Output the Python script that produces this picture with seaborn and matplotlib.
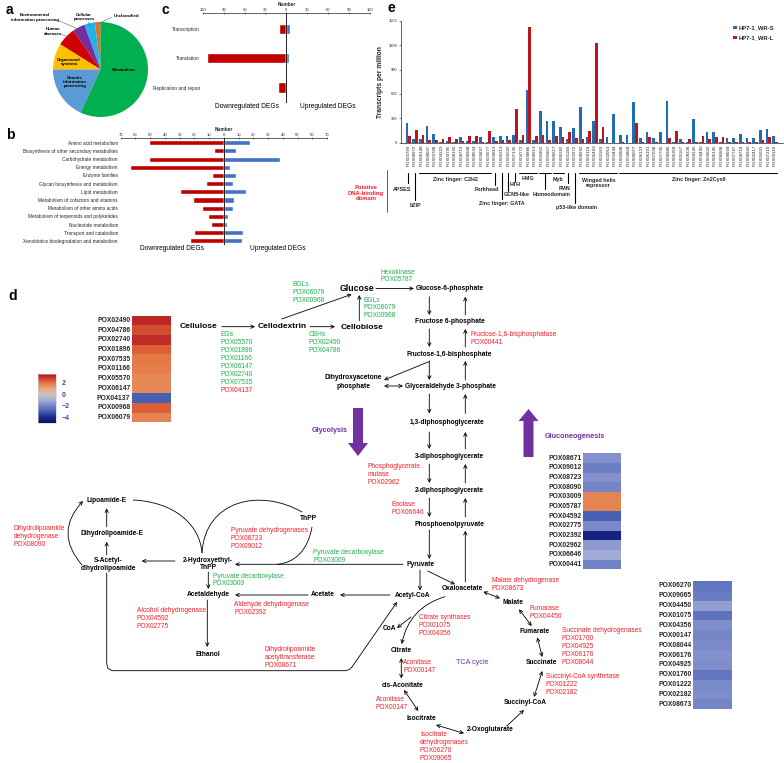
import numpy as np
import pandas as pd
import seaborn as sns
import matplotlib.pyplot as plt
import matplotlib.transforms as mtransforms
from matplotlib.colors import LinearSegmentedColormap
from matplotlib.patches import PathPatch
from matplotlib.path import Path

sns.set_style('white')
plt.rcParams['font.family'] = ['Liberation Sans', 'DejaVu Sans']
plt.rcParams['axes.linewidth'] = 0.5

W, H = 784, 763
RED, BLUE = '#C00000', '#4472C4'
E_BLUE, E_RED = '#1F6DB5', '#C0141C'
GREEN_TXT, RED_TXT, PURPLE = '#1EB04A', '#F0202A', '#7030A0'

# ---------------- data ----------------
# panel a: KEGG classes of DEGs (share, %)
kegg_class = ['Unclassified', 'Cellular processes', 'Environmental information processing',
              'Human diseases', 'Organismal systems', 'Genetic information processing', 'Metabolism']
kegg_share = [1.9, 3.6, 4.2, 6.4, 8.9, 18.1, 56.9]
kegg_colors = ['#E07022', '#1FB4EA', '#7030A0', '#D00000', '#FFC000', '#5B9BD5', '#00B050']

# panel b: metabolism sub-classes
b_cats = ['Amino acid metabolism', 'Biosynthesis of other secondary metabolites',
          'Carbohydrate metabolism', 'Energy metabolism', 'Enzyme families',
          'Glycan biosynthesis and metabolism', 'Lipid metabolism',
          'Metabolism of cofactors and vitamins', 'Metabolism of other amino acids',
          'Metabolism of terpenoids and polyketides', 'Nucleotide metabolism',
          'Transport and catabolism', 'Xenobiotics biodegradation and metabolism']
b_down = [51, 7, 51, 64, 8, 12, 30, 21, 15, 11, 9, 20, 23]
b_up = [18, 8, 38, 4, 8, 6, 15, 7, 6, 3, 2, 13, 12]

# panel c: genetic information processing
c_cats = ['Transcription', 'Translation', 'Replication and repair']
c_down = [10, 114, 12]
c_up = [5, 4, 0]

# panel e: transcription factors (TPM)
e_genes = ['POX03789', 'POX08972', 'POX06148', 'POX08037', 'POX03788', 'POX04223', 'POX04795',
           'POX08160', 'POX08719', 'POX08288', 'POX08534', 'POX03897', 'POX03577', 'POX04819',
           'POX06313', 'POX04392', 'POX07135', 'POX04772', 'POX04886', 'POX08913', 'POX05862',
           'POX05867', 'POX06617', 'POX06382', 'POX01184', 'POX03372', 'POX08992', 'POX09118',
           'POX06469', 'POX01183', 'POX02063', 'POX03444', 'POX02888', 'POX03868', 'POX06077',
           'POX06123', 'POX06101', 'POX07038', 'POX07795', 'POX08986', 'POX06358', 'POX01167',
           'POX08328', 'POX04145', 'POX04490', 'POX04832', 'POX06145', 'POX06808', 'POX08039',
           'POX07747', 'POX08718', 'POX08949', 'POX02417', 'POX05031', 'POX07210', 'POX09116']
e_wrs = [245, 40, 40, 205, 110, 5, 20, 5, 70, 20, 20, 70, 5, 75, 85, 85, 100, 35, 648, 30,
         385, 265, 265, 190, 40, 185, 440, 65, 263, 49, 66, 357, 99, 99, 497, 58, 136, 58,
         136, 518, 5, 49, 3, 292, 5, 136, 136, 5, 58, 58, 103, 58, 58, 160, 173, 82]
e_wrl = [80, 155, 95, 38, 38, 45, 75, 45, 20, 80, 80, 5, 145, 25, 30, 30, 420, 95, 1420, 80,
         95, 35, 80, 65, 135, 60, 40, 144, 1230, 193, 2, 2, 8, 0, 238, 5, 66, 8, 0, 58,
         144, 5, 41, 8, 86, 49, 66, 74, 5, 5, 5, 5, 5, 29, 66, 5]
e_samples = ['HP7-1_WR-S', 'HP7-1_WR-L']
# DNA-binding domain groups: name, first gene, last gene, drop length, label y, label dx
e_groups = [('APSES', 0, 0, 10, 189.5, -1.0), ('bZIP', 1, 1, 27, 205.5, 0),
            ('Zinc finger: C2H2', 2, 12, 0, 179.5, 0), ('Forkhead', 13, 13, 12, 189.5, -1.2),
            ('Zinc finger: GATA', 14, 14, 26, 203.5, 0), ('GCN5-like', 15, 15, 18, 195, 1.2),
            ('HTH', 16, 16, 8, 184, 0), ('HMG', 17, 19, 0, 178.5, 0),
            ('Homeodomain', 20, 21, 16, 195, 1.0), ('Myb', 22, 23, 0, 179.5, 0),
            ('FMN', 24, 24, 10, 188.5, -0.6), ('p53-like domain', 25, 25, 30, 207.5, 0.3),
            ('Winged helix\nrepressor', 26, 31, 0, 183, 0), ('Zinc finger: Zn2Cys6', 32, 55, 0, 179.5, 0)]

# panel d heatmaps (log2 fold change)
hm1_genes = ['POX02490', 'POX04786', 'POX02740', 'POX01896', 'POX07535', 'POX01166',
             'POX05570', 'POX06147', 'POX04137', 'POX00968', 'POX06079']
hm1_vals = [3.2, 2.6, 3.1, 2.3, 1.9, 1.8, 1.6, 1.6, -3.0, 2.3, 1.7]
hm2_genes = ['POX08671', 'POX09012', 'POX08723', 'POX08090', 'POX03009', 'POX05787',
             'POX04592', 'POX02775', 'POX02392', 'POX02962', 'POX06646', 'POX00441']
hm2_vals = [-1.7, -2.2, -1.7, -2.0, 1.7, 1.7, -3.0, -1.9, -4.3, -1.5, -1.1, -2.1]
hm3_genes = ['POX06270', 'POX09065', 'POX04450', 'POX01075', 'POX04356', 'POX00147', 'POX08044',
             'POX06176', 'POX04925', 'POX01760', 'POX01222', 'POX02182', 'POX08673']
hm3_vals = [-2.4, -2.3, -1.4, -2.5, -1.8, -2.0, -1.9, -1.7, -1.8, -2.4, -1.9, -1.8, -2.0]

cmap = LinearSegmentedColormap.from_list('fc', [
    (0.0, '#0b1465'), (1 / 8.5, '#1c2a8a'), (2 / 8.5, '#4560b5'), (3 / 8.5, '#7585c8'),
    (4 / 8.5, '#a6aed6'), (5 / 8.5, '#cfc4bd'), (6 / 8.5, '#e9a57f'), (7 / 8.5, '#e5743f'),
    (1.0, '#b3121d')])


def rect(x0, y0, x1, y1):
    return [x0 / W, 1 - y1 / H, (x1 - x0) / W, (y1 - y0) / H]


def butterfly(ax, cats, down, up, xmax, step, width, ylim):
    df = pd.DataFrame({'cat': cats * 2, 'n': [-v for v in down] + list(up),
                       'dir': ['Down'] * len(cats) + ['Up'] * len(cats)})
    sns.barplot(data=df, y='cat', x='n', hue='dir', order=cats, dodge=False, orient='h',
                palette={'Down': RED, 'Up': BLUE}, width=width, saturation=1, ax=ax, legend=False)
    ax.set_xlim(-xmax, xmax)
    ax.set_ylim(*ylim)
    ticks = np.arange(-xmax, xmax + 1, step)
    ax.set_xticks(ticks)
    ax.set_xticklabels([str(abs(t)) for t in ticks])
    ax.xaxis.tick_top()
    ax.xaxis.set_label_position('top')
    ax.set_xlabel('Number', fontsize=3.4, fontweight='bold', labelpad=1)
    ax.set_ylabel('')
    for s in ['bottom', 'left', 'right']:
        ax.spines[s].set_visible(False)
    ax.spines['top'].set_linewidth(0.5)
    ax.axvline(0, color='black', lw=0.6)
    ax.tick_params(axis='y', length=0, labelsize=3.4, pad=2)
    ax.tick_params(axis='x', length=1.5, width=0.4, labelsize=3.0, pad=0.5, direction='inout')
    ax.patch.set_alpha(0)


def heat(ax, genes, vals, cax=None):
    df = pd.DataFrame({'z': vals}, index=genes)
    sns.heatmap(df, ax=ax, cmap=cmap, vmin=-5, vmax=3.5, cbar=cax is not None, cbar_ax=cax,
                xticklabels=False, yticklabels=True)
    ax.set_ylabel('')
    ax.tick_params(axis='y', length=0, pad=1, labelsize=4.85)
    for lab in ax.get_yticklabels():
        lab.set_rotation(0)
        lab.set_fontweight('bold')


fig = plt.figure(figsize=(W / 100, H / 100), dpi=100)

# ---- a: pie ----
ax_a = fig.add_axes(rect(53, 22, 148, 117))
ax_a.pie(kegg_share, colors=kegg_colors, startangle=90, counterclock=True,
         wedgeprops=dict(linewidth=0))
ax_a.set_xlim(-1, 1)
ax_a.set_ylim(-1, 1)
ax_a.set_aspect('equal')

# ---- b, c: butterfly bars ----
ax_b = fig.add_axes(rect(120.7, 138.3, 327, 245))
butterfly(ax_b, b_cats, b_down, b_up, 70, 10, 0.62, (12.5, -0.54))
ax_c = fig.add_axes(rect(202.7, 13.3, 370, 103))
butterfly(ax_c, c_cats, c_down, c_up, 120, 30, 0.35, (2.53, -0.54))

# ---- e: TPM bars ----
ax_e = fig.add_axes(rect(400.7, 20.7, 783, 142.7))
df_e = pd.DataFrame({'gene': e_genes * 2, 'tpm': e_wrs + e_wrl,
                     'sample': [e_samples[0]] * len(e_genes) + [e_samples[1]] * len(e_genes)})
sns.barplot(data=df_e, x='gene', y='tpm', hue='sample', order=e_genes, hue_order=e_samples,
            palette=[E_BLUE, E_RED], width=0.78, saturation=1, linewidth=0, ax=ax_e)
ax_e.set_xlim(-1.14, 56.2)
ax_e.set_ylim(0, 1500)
ax_e.set_yticks(range(0, 1501, 300))
ax_e.set_xlabel('')
ax_e.set_ylabel('Transcripts per million', fontsize=4.8, fontweight='bold', labelpad=3)
sns.despine(ax=ax_e)
ax_e.tick_params(axis='x', length=0, labelsize=3.2, pad=1.5, labelrotation=90)
ax_e.tick_params(axis='y', length=1.5, width=0.4, labelsize=2.9, pad=1, left=True)
h_, l_ = ax_e.get_legend_handles_labels()
ax_e.legend(h_, l_, loc='upper right', bbox_to_anchor=(0.985, 0.985), frameon=False,
            prop={'size': 4.2, 'weight': 'bold'}, handlelength=0.6, handleheight=0.6,
            handletextpad=0.4, labelspacing=0.9, borderpad=0)
ax_e.patch.set_alpha(0)

# ---- d: heatmaps ----
ax_h1 = fig.add_axes(rect(131.7, 315.7, 170.7, 422.3))
cax = fig.add_axes(rect(38, 374.3, 55.7, 422.7))
heat(ax_h1, hm1_genes, hm1_vals, cax)
cbar = ax_h1.collections[0].colorbar
cbar.set_ticks([2, 0, -2, -4])
cbar.set_ticklabels(['2', '0', '\u22122', '\u22124'])
cbar.ax.tick_params(length=0, labelsize=5, colors=PURPLE, pad=4)
for lab in cbar.ax.get_yticklabels():
    lab.set_fontweight('bold')
cbar.outline.set_linewidth(0.4)
cbar.outline.set_edgecolor('#c8c8e0')
ax_h2 = fig.add_axes(rect(582.7, 453.3, 621, 569.3))
heat(ax_h2, hm2_genes, hm2_vals)
ax_h3 = fig.add_axes(rect(693.3, 581, 732.3, 709.3))
heat(ax_h3, hm3_genes, hm3_vals)

# ---- overlay for annotations and pathway ----
ax = fig.add_axes([0, 0, 1, 1])
ax.set_xlim(0, W)
ax.set_ylim(H, 0)
ax.axis('off')
ax.patch.set_alpha(0)


def txt(x, y, s, size=4.8, color='black', weight='bold', ha='center', **kw):
    ax.text(x, y, s, fontsize=size, color=color, fontweight=weight, ha=ha, va='center', **kw)


def stack(x, y, lines, color, size=4.8, dy=7.9):
    for i, s in enumerate(lines):
        c = color
        if isinstance(s, tuple):
            s, c = s
        ax.text(x, y + i * dy, s, fontsize=size, color=c, ha='left', va='center')


def arrow(p, q, style='->', rad=0.0, lw=0.6):
    ax.annotate('', xy=q, xytext=p,
                arrowprops=dict(arrowstyle=style, lw=lw, color='black', shrinkA=0, shrinkB=0,
                                mutation_scale=6, connectionstyle=f'arc3,rad={rad}'))


def curve(pts, lw=0.6):
    codes = [Path.MOVETO, Path.CURVE4, Path.CURVE4, Path.CURVE4]
    ax.add_patch(PathPatch(Path(pts, codes), fc='none', ec='black', lw=lw))


# panel letters
for s, x, y in [('a', 6, 9.5), ('b', 6, 135), ('c', 162, 9.5), ('d', 8, 296), ('e', 388, 8.5)]:
    txt(x, y, s, size=10, ha='left')

# pie labels
txt(123.8, 70, 'Metabolism', size=3.2)
txt(75, 82, 'Genetic\ninformation\nprocessing', size=3.2, linespacing=1.1)
txt(69, 62, 'Organismal\nsystems', size=3.2, linespacing=1.1)
txt(53.3, 31.5, 'Human\ndiseases', size=3.2, linespacing=1.1)
txt(35, 17.5, 'Environmental\ninformation processing', size=3.2, linespacing=1.1)
txt(84.3, 17, 'Cellular\nprocesses', size=3.2, linespacing=1.1)
txt(113.3, 15.7, 'Unclassified', size=3.2, ha='left')
for p, q in [((61, 34.3), (70.7, 37.7)), ((58.3, 20.5), (78.7, 29.3)),
             ((88.3, 22), (90, 25.5)), ((111.7, 17.3), (99, 23.3))]:
    ax.plot([p[0], q[0]], [p[1], q[1]], color='#606060', lw=0.4)

# DEG labels
for x, y, s in [(247, 106.7, 'Downregulated DEGs'), (328, 106.7, 'Upregulated DEGs'),
                (172, 249, 'Downregulated DEGs'), (278, 249, 'Upregulated DEGs')]:
    txt(x, y, s, size=4.8, weight='normal')

# panel e domain groups
trans = mtransforms.blended_transform_factory(ax_e.transData, ax.transData)
y_bar = 173.0
for name, i0, i1, drop, ly, dx in e_groups:
    if i1 > i0:
        ax.plot([i0 - 0.35, i1 + 0.35], [y_bar, y_bar], transform=trans, color='black', lw=0.7)
    if drop:
        xc = (i0 + i1) / 2
        ax.plot([xc, xc], [y_bar, y_bar + drop], transform=trans, color='black', lw=0.8)
    ax.text((i0 + i1) / 2 + dx, ly, name, transform=trans, fontsize=3.9, fontweight='bold',
            ha='center', va='center', linespacing=1.1)
txt(366, 193, 'Putative\nDNA-binding\ndomain', size=4.2, color=RED_TXT, linespacing=1.15)
ax.plot([386.7, 386.7], [170, 212], color=RED_TXT, lw=0.7)

# pathway metabolites
for s, x, y, sz in [('Cellulose', 199, 326.5, 6), ('Cellodextrin', 281.7, 326.7, 6),
                    ('Cellobiose', 361.7, 327.3, 6), ('Glucose', 356.7, 288.3, 6.3)]:
    txt(x, y, s, size=sz)
nodes = [('Glucose-6-phosphate', 450, 288.7), ('Fructose 6-phosphate', 450, 321.3),
         ('Fructose-1,6-bisphosphate', 449.3, 354), ('Glyceraldehyde 3-phosphate', 450, 386.3),
         ('Dihydroxyacetone', 353.3, 377.7), ('phosphate', 353.3, 386),
         ('1,3-diphosphoglycerate', 447.3, 423), ('3-diphosphoglycerate', 449.3, 456.7),
         ('2-diphosphoglycerate', 449.3, 490.7), ('Phosphoenolpyruvate', 449.3, 524.7),
         ('Pyruvate', 420.5, 565), ('Oxaloacetate', 462.7, 588.7), ('Acetyl-CoA', 413, 595.7),
         ('Malate', 513.3, 602), ('Fumarate', 534.7, 631.3), ('Succinate', 541.5, 662.3),
         ('Succinyl-CoA', 525.7, 702.7), ('2-Oxoglutarate', 490, 729.3),
         ('Isocitrate', 421.3, 718.7), ('cis-Aconitate', 403, 685.3), ('Citrate', 401.5, 651),
         ('CoA', 389.5, 628.3), ('Lipoamide-E', 106.7, 500), ('Dihydrolipoamide-E', 111.7, 533.3),
         ('S-Acetyl-', 108.3, 560), ('dihydrolipoamide', 108.3, 568.3),
         ('2-Hydroxyethyl-', 208.3, 560), ('ThPP', 208.3, 567.7), ('ThPP', 308.3, 519),
         ('Acetaldehyde', 208.7, 595), ('Acetate', 322.3, 595), ('Ethanol', 208.3, 655)]
for s, x, y in nodes:
    txt(x, y, s)
txt(330, 431, 'Glycolysis', size=5.2, color=PURPLE)
txt(575, 436, 'Gluconeogenesis', size=5.2, color=PURPLE)
txt(472.2, 662.7, 'TCA cycle', size=5.2, color=PURPLE, weight='normal')

# enzymes
stack(220.7, 335, ['EGs', 'POX05570', 'POX01896', 'POX01166', 'POX06147', 'POX02740',
                   'POX07535', ('POX04137', RED_TXT)], GREEN_TXT)
stack(292.7, 285, ['BGLs', 'POX06079', 'POX00968'], GREEN_TXT)
stack(363.3, 300, ['BGLs', 'POX06079', 'POX00968'], GREEN_TXT)
stack(309, 335, ['CBHs', 'POX02490', 'POX04786'], GREEN_TXT)
stack(381, 272, ['Hexokinase', 'POX05787'], GREEN_TXT)
stack(313.3, 552.3, ['Pyruvate decarboxylase', 'POX03009'], GREEN_TXT)
stack(212.7, 576, ['Pyruvate decarboxylase', 'POX03009'], GREEN_TXT)
red_enz = [(471, 335, ['Fructose-1,6-bisphosphatase', 'POX00441']),
           (367.7, 466.7, ['Phosphoglycerate', 'mutase', 'POX02962']),
           (391.7, 504.3, ['Enolase', 'POX06646']),
           (491.7, 581, ['Malate dehydrogenase', 'POX08673']),
           (529.7, 608.7, ['Fumarase', 'POX04450']),
           (561.7, 630.7, ['Succinate dehydrogenases', 'POX01760', 'POX04925', 'POX06176', 'POX08044']),
           (546, 677, ['Succinyl-CoA synthetase', 'POX01222', 'POX02182']),
           (419, 617.3, ['Citrate synthases', 'POX01075', 'POX04356']),
           (403.3, 663, ['Aconitase', 'POX00147']),
           (376, 699.3, ['Aconitase', 'POX00147']),
           (420, 734.3, ['Isocitrate', 'dehydrogenases', 'POX06270', 'POX09065']),
           (14, 528.3, ['Dihydrolipoamide', 'dehydrogenase', 'POX08090']),
           (230.7, 530.7, ['Pyruvate dehydrogenases', 'POX08723', 'POX09012']),
           (234.3, 605, ['Aldehyde dehydrogenase', 'POX02392']),
           (136.7, 611, ['Alcohol dehydrogenase', 'POX04592', 'POX02775']),
           (265, 649.3, ['Dihydrolipoamide', 'acetyltransferase', 'POX08671'])]
for x, y, lines in red_enz:
    stack(x, y, lines, RED_TXT)

# arrows: cellulose degradation and glycolysis
arrow((221.7, 326.7), (255, 326.7))
arrow((310, 326.7), (335, 326.7))
arrow((281.7, 319), (351.7, 294.3))
arrow((359.3, 320.7), (359.3, 295))
arrow((376, 288.5), (414, 288.5))
for a, b in [(296.7, 315), (329, 347), (361, 380), (394, 413.5), (432, 449), (464, 483), (498, 517)]:
    arrow((429.3, a), (429.3, b))
    arrow((465.3, b), (465.3, a))
arrow((429.3, 361.5), (384, 380))
arrow((384, 386), (403, 386), style='<->')
arrow((429.3, 530), (429.3, 559))
arrow((465.3, 581.7), (465.3, 530.7))
ax.arrow(358, 408, 0, 48, width=10, head_width=20, head_length=13, length_includes_head=True,
         color=PURPLE, lw=0)
ax.arrow(528.5, 457, 0, -48, width=10, head_width=20, head_length=12, length_includes_head=True,
         color=PURPLE, lw=0)

# pyruvate branch
arrow((420, 570), (420, 590.5))
arrow((427.7, 571), (455, 584.3))
arrow((403, 564.3), (235, 564.3))
arrow((390, 595), (340, 595))
arrow((308, 595), (235, 595))
arrow((208.3, 572), (208.3, 589))
arrow((207.3, 600), (207.3, 647))
arrow((175, 561), (141.7, 561))
arrow((106.7, 555), (106.7, 541.7))
arrow((106.7, 526.7), (106.7, 508.3))
arrow((82, 565), (83, 501), rad=-0.45)
curve([(133, 500), (175, 502), (200, 525), (202, 553)])
curve([(202, 553), (205, 500), (260, 488), (302, 512)])
curve([(312, 527), (308, 550), (295, 563), (277, 564.3)])
ax.plot([106.7, 106.7, 108, 112, 345, 349, 352], [573, 664, 668.5, 670.7, 670.7, 669.7, 667],
        color='black', lw=0.6)
arrow((352, 667), (397, 602))

# TCA cycle
arrow((445, 596.7), (401.7, 644), rad=0.3)
arrow((411, 617), (397, 628))
arrow((401.3, 658), (401.3, 678.5), style='<->')
arrow((404, 690), (418.3, 711), style='<->')
arrow((436, 725), (464, 733.3), style='<->')
arrow((506.7, 726), (524, 710))
arrow((534, 697), (542.3, 671), style='<->')
arrow((542.3, 657), (537.3, 637.5), style='<->')
arrow((531.7, 626), (519, 609.3), style='<->')
arrow((500, 598.3), (483.3, 591.7), style='<->')

fig.savefig('out.png', dpi=100)
